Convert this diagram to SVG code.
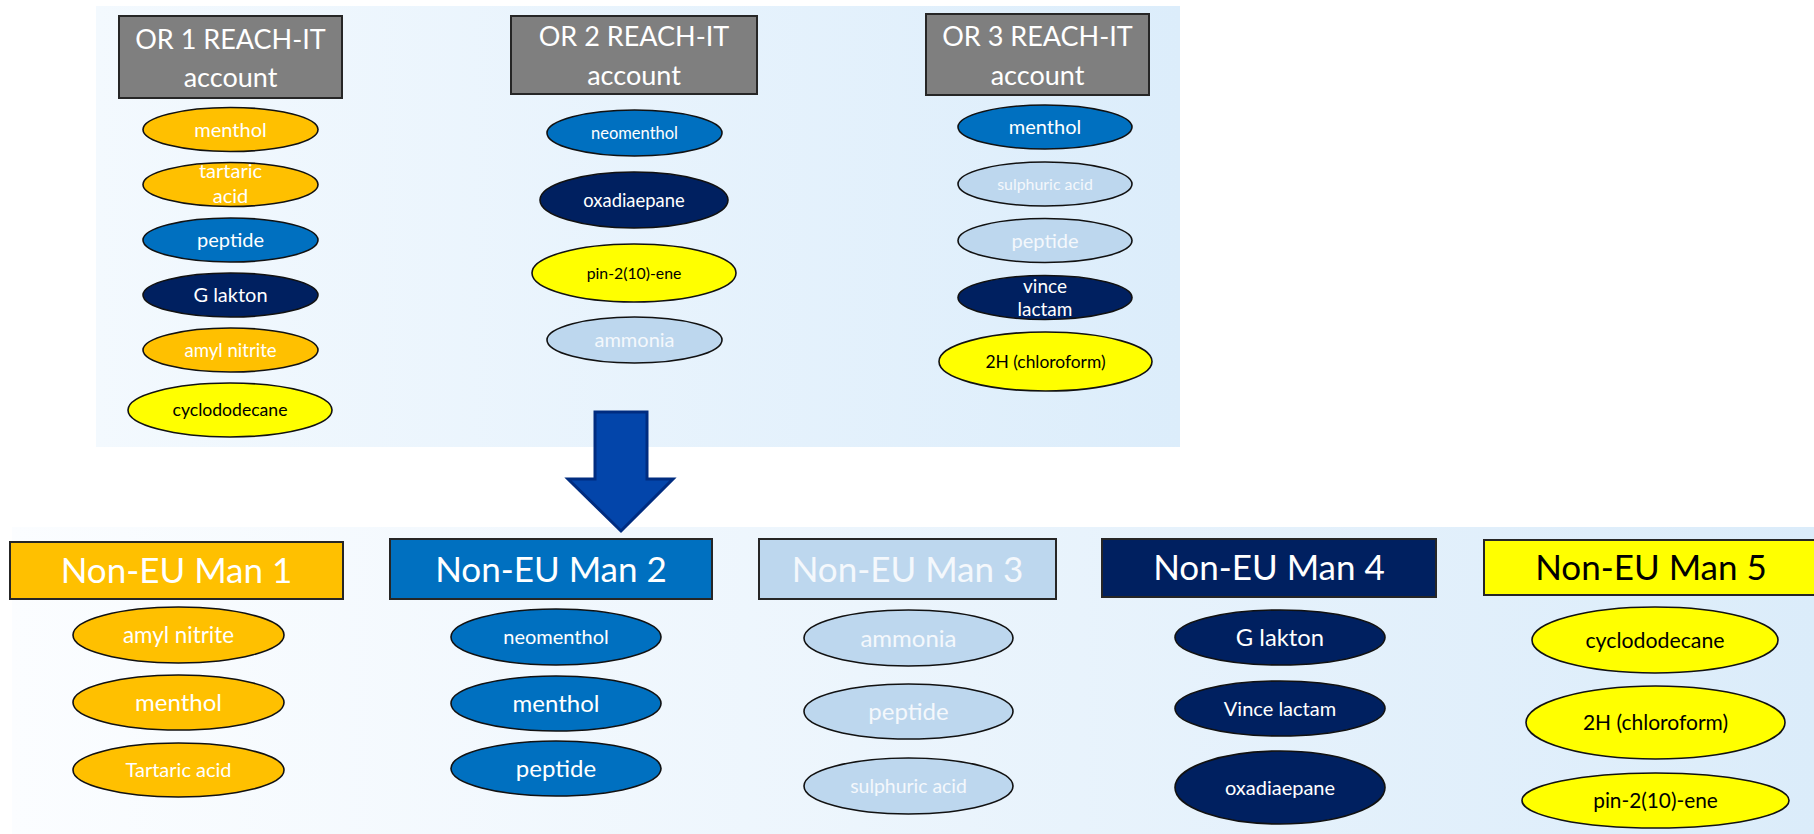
<svg xmlns="http://www.w3.org/2000/svg" width="1814" height="834" viewBox="0 0 1814 834">
<defs>
<linearGradient id="gTop" x1="0" y1="0" x2="1" y2="0">
<stop offset="0" stop-color="#f3f9fe"/>
<stop offset="1" stop-color="#dcedfb"/>
</linearGradient>
<linearGradient id="gBot" x1="0" y1="0" x2="1" y2="0">
<stop offset="0" stop-color="#fbfdff"/>
<stop offset="1" stop-color="#dbecfa"/>
</linearGradient>
</defs>
<style>
text{font-family:Lato,"Liberation Sans",sans-serif;text-anchor:middle}
.box{stroke:#262626;stroke-width:2}
.grey{fill:#7f7f7f}
.el{stroke:#111;stroke-width:1.6}
.or{fill:#ffc000}.bl{fill:#0070c0}.nv{fill:#002060}.ye{fill:#ffff00}.lb{fill:#bdd7ee}
.tw{fill:#ffffff}.tk{fill:#000000}.tf{fill:#f4f8fc}
.ttl{font-size:27px}
.big{font-size:35px}
</style>
<rect x="96" y="6" width="1084" height="441" fill="url(#gTop)"/>
<rect x="12" y="527" width="1802" height="307" fill="url(#gBot)"/>

<g id="or1">
<rect class="box grey" x="119" y="16" width="223" height="82"/>
<text class="ttl tw" x="230.5" y="49">OR 1 REACH-IT</text>
<text class="ttl tw" x="230.5" y="87">account</text>
</g>
<g id="or1-menthol"><ellipse class="el or" cx="230.5" cy="129.5" rx="87.5" ry="22"/><text class="tw" x="230.5" y="136.5" font-size="20">menthol</text></g>
<g id="or1-tartaric"><ellipse class="el or" cx="230.5" cy="184.5" rx="87.5" ry="22"/><text class="tw" x="230.5" y="178" font-size="20">tartaric</text><text class="tw" x="230.5" y="203" font-size="20">acid</text></g>
<g id="or1-peptide"><ellipse class="el bl" cx="230.5" cy="240" rx="87.5" ry="22"/><text class="tw" x="230.5" y="247" font-size="20">peptide</text></g>
<g id="or1-glakton"><ellipse class="el nv" cx="230.5" cy="295" rx="87.5" ry="22"/><text class="tw" x="230.5" y="302" font-size="20">G lakton</text></g>
<g id="or1-amyl"><ellipse class="el or" cx="230.5" cy="350" rx="87.5" ry="22"/><text class="tw" x="230.5" y="356.5" font-size="18.6">amyl nitrite</text></g>
<g id="or1-cyclo"><ellipse class="el ye" cx="230" cy="410" rx="102" ry="27"/><text class="tk" x="230" y="416" font-size="17.6">cyclododecane</text></g>

<g id="or2">
<rect class="box grey" x="511" y="16" width="246" height="78"/>
<text class="ttl tw" x="634" y="46">OR 2 REACH-IT</text>
<text class="ttl tw" x="634" y="85">account</text>
</g>
<g id="or2-neomenthol"><ellipse class="el bl" cx="634.5" cy="133" rx="87.5" ry="23"/><text class="tw" x="634.5" y="139" font-size="16.5">neomenthol</text></g>
<g id="or2-oxa"><ellipse class="el nv" cx="634" cy="200" rx="94" ry="28"/><text class="tw" x="634" y="206.5" font-size="18.4">oxadiaepane</text></g>
<g id="or2-pin"><ellipse class="el ye" cx="634" cy="273" rx="102" ry="29"/><text class="tk" x="634" y="278.5" font-size="15.8">pin-2(10)-ene</text></g>
<g id="or2-ammonia"><ellipse class="el lb" cx="634.5" cy="340" rx="87.5" ry="23"/><text class="tf" x="634.5" y="347" font-size="20">ammonia</text></g>

<g id="or3">
<rect class="box grey" x="926" y="14" width="223" height="81"/>
<text class="ttl tw" x="1037.5" y="46">OR 3 REACH-IT</text>
<text class="ttl tw" x="1037.5" y="85">account</text>
</g>
<g id="or3-menthol"><ellipse class="el bl" cx="1045" cy="127" rx="87" ry="22"/><text class="tw" x="1045" y="134" font-size="20">menthol</text></g>
<g id="or3-sulph"><ellipse class="el lb" cx="1045" cy="184" rx="87" ry="22"/><text class="tf" x="1045" y="189.5" font-size="15.9">sulphuric acid</text></g>
<g id="or3-peptide"><ellipse class="el lb" cx="1045" cy="240.5" rx="87" ry="22"/><text class="tf" x="1045" y="247.5" font-size="20">peptide</text></g>
<g id="or3-vince"><ellipse class="el nv" cx="1045" cy="297.5" rx="87" ry="22"/><text class="tw" x="1045" y="293" font-size="19">vince</text><text class="tw" x="1045" y="316" font-size="19">lactam</text></g>
<g id="or3-2h"><ellipse class="el ye" cx="1045.5" cy="361.5" rx="106.5" ry="29.5"/><text class="tk" x="1045.5" y="367.5" font-size="17.4">2H (chloroform)</text></g>

<g id="connectors">
<path d="M595,412 L647,412 L647,479 L673,479 L621,531 L568,479 L595,479 Z" fill="#0345aa" stroke="#002c80" stroke-width="3" stroke-linejoin="miter"/>
</g>

<g id="man1">
<rect class="box or" x="10" y="542" width="333" height="57"/>
<text class="big tw" x="176.5" y="583">Non-EU Man 1</text>
</g>
<g id="man1-amyl"><ellipse class="el or" cx="178.5" cy="635" rx="105.5" ry="28"/><text class="tw" x="178.5" y="642.5" font-size="22.4">amyl nitrite</text></g>
<g id="man1-menthol"><ellipse class="el or" cx="178.5" cy="702.5" rx="105.5" ry="27.5"/><text class="tw" x="178.5" y="711" font-size="24">menthol</text></g>
<g id="man1-tartaric"><ellipse class="el or" cx="178.5" cy="770" rx="105.5" ry="27"/><text class="tw" x="178.5" y="777" font-size="20">Tartaric acid</text></g>

<g id="man2">
<rect class="box bl" x="390" y="539" width="322" height="60"/>
<text class="big tw" x="551" y="582">Non-EU Man 2</text>
</g>
<g id="man2-neomenthol"><ellipse class="el bl" cx="556" cy="637" rx="105" ry="28"/><text class="tw" x="556" y="644" font-size="20">neomenthol</text></g>
<g id="man2-menthol"><ellipse class="el bl" cx="556" cy="703.5" rx="105" ry="27.5"/><text class="tw" x="556" y="712" font-size="24">menthol</text></g>
<g id="man2-peptide"><ellipse class="el bl" cx="556" cy="768.5" rx="105" ry="27.5"/><text class="tw" x="556" y="777" font-size="24">peptide</text></g>

<g id="man3">
<rect class="box lb" x="759" y="539" width="297" height="60"/>
<text class="big tf" x="907.5" y="582">Non-EU Man 3</text>
</g>
<g id="man3-ammonia"><ellipse class="el lb" cx="908.5" cy="638" rx="104.5" ry="28"/><text class="tf" x="908.5" y="646.5" font-size="24">ammonia</text></g>
<g id="man3-peptide"><ellipse class="el lb" cx="908.5" cy="711.5" rx="104.5" ry="27.5"/><text class="tf" x="908.5" y="720" font-size="24">peptide</text></g>
<g id="man3-sulph"><ellipse class="el lb" cx="908.5" cy="786" rx="104.5" ry="28"/><text class="tf" x="908.5" y="793" font-size="19.4">sulphuric acid</text></g>

<g id="man4">
<rect class="box nv" x="1102" y="539" width="334" height="58"/>
<text class="big tw" x="1269" y="580">Non-EU Man 4</text>
</g>
<g id="man4-glakton"><ellipse class="el nv" cx="1280" cy="637.5" rx="105" ry="27.5"/><text class="tw" x="1280" y="646" font-size="23.8">G lakton</text></g>
<g id="man4-vince"><ellipse class="el nv" cx="1280" cy="708.5" rx="105" ry="27.5"/><text class="tw" x="1280" y="715.5" font-size="20">Vince lactam</text></g>
<g id="man4-oxa"><ellipse class="el nv" cx="1280" cy="787.5" rx="105" ry="36.5"/><text class="tw" x="1280" y="794.5" font-size="20">oxadiaepane</text></g>

<g id="man5">
<rect class="box ye" x="1484" y="540" width="340" height="55"/>
<text class="big tk" x="1651" y="580">Non-EU Man 5</text>
</g>
<g id="man5-cyclo"><ellipse class="el ye" cx="1655" cy="640" rx="123" ry="33"/><text class="tk" x="1655" y="647.5" font-size="21.3">cyclododecane</text></g>
<g id="man5-2h"><ellipse class="el ye" cx="1655.5" cy="722.5" rx="129.5" ry="36.5"/><text class="tk" x="1655.5" y="730" font-size="21">2H (chloroform)</text></g>
<g id="man5-pin"><ellipse class="el ye" cx="1655.5" cy="800.5" rx="133.5" ry="27.5"/><text class="tk" x="1655.5" y="808" font-size="20.8">pin-2(10)-ene</text></g>
</svg>
